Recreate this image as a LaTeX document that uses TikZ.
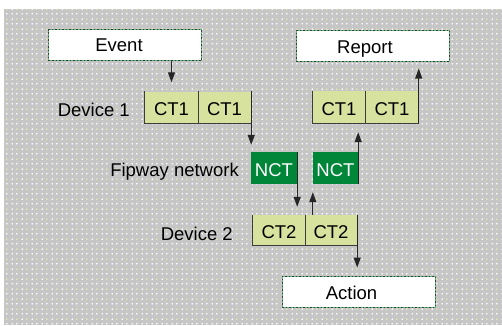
\documentclass[tikz,border=0pt]{standalone}
\usepackage{fontspec}
\setmainfont{Liberation Sans}
\usetikzlibrary{arrows.meta, patterns.meta}

\definecolor{bggray}{RGB}{198,198,198}
\definecolor{dotyellow}{RGB}{236,236,170}
\definecolor{ctfill}{RGB}{214,226,158}
\definecolor{nctgreen}{RGB}{0,134,56}
\definecolor{edgegray}{RGB}{60,60,60}
\definecolor{boxedge}{RGB}{90,180,120}

\tikzdeclarepattern{
	name=bgdots,
	type=colored,
	bottom left={(0pt,0pt)},
	top right={(10pt,10pt)},
	tile size={(10pt,10pt)},
	code={
		\fill[white] (2.5pt,2.5pt) circle (1pt);
		\fill[white] (7.5pt,2.5pt) circle (1pt);
		\fill[white] (2.5pt,7.5pt) circle (1pt);
		\fill[dotyellow] (7.5pt,7.5pt) circle (1pt);
	}
}

\tikzset{
	txt/.style={font=\fontsize{18.5}{21}\selectfont, inner sep=0pt, text height=16pt, text depth=0pt},
	eventbox/.style={txt, fill=white, draw=boxedge, line width=1pt, minimum width=153pt, minimum height=31pt,
		postaction={draw=edgegray, line width=0.6pt, dash pattern=on 1.5pt off 2pt}},
	ctbox/.style={txt, fill=ctfill, minimum height=32pt},
	nctbox/.style={txt, fill=nctgreen, text=white, minimum width=46pt, minimum height=32pt},
	edge/.style={draw=edgegray, line width=1.1pt},
	arr/.style={draw=black!85, line width=1.1pt, -{Triangle[length=10pt,width=7pt]}}
}

\begin{document}
\begin{tikzpicture}[x=1pt, y=-1pt]
	\useasboundingbox (0,0) rectangle (502,325);
	% background
	\fill[bggray] (4,9) rectangle (502,325);
	\fill[pattern=bgdots] (4,9) rectangle (502,325);

	\node[eventbox, text height=12pt] (event) at (125,45) {\hspace*{-12pt}Event};
	\node[eventbox] (report) at (373,45.5)    {\hspace*{-16pt}Report};
	\node[eventbox] (action) at (358.5,291.5) {\hspace*{-14pt}Action};

	\node[txt, anchor=east] (dev1) at (130,108.5) {Device 1};
	\node[txt, anchor=east] (fip)  at (239,168.5) {Fipway network};
	\node[txt, anchor=east] (dev2) at (233,232)   {Device 2};

	\node[ctbox, minimum width=53pt] (ct1a) at (171.5,107.5) {CT1};
	\node[ctbox, minimum width=53pt] (ct1b) at (224.5,107.5) {CT1};
	\node[ctbox, minimum width=53pt] (ct1c) at (339,107)     {CT1};
	\node[ctbox, minimum width=53pt] (ct1d) at (392,107)     {CT1};
	\node[ctbox, minimum width=52pt, minimum height=30pt] (ct2a) at (279,230) {CT2};
	\node[ctbox, minimum width=52pt, minimum height=30pt] (ct2b) at (331,230) {CT2};

	\node[nctbox] (nct1) at (274,168)   {NCT};
	\node[nctbox, minimum width=45pt] (nct2) at (335.5,168) {NCT};

	% box edges
	\draw[edge] (ct1a.north west) -- (ct1a.south west) -- (ct1b.south east);
	\draw[edge] (ct1a.north east) -- (ct1a.south east);
	\draw[edge] (ct1c.north west) -- (ct1c.south west) -- (ct1d.south east);
	\draw[edge] (ct1c.north east) -- (ct1c.south east);
	\draw[edge] (ct2a.north west) -- (ct2a.south west) -- (ct2b.south east);
	\draw[edge] (ct2a.north east) -- (ct2a.south east);

	% arrows
	\draw[arr, shorten >=9pt] (event.south -| ct1a.north) -- (ct1a.north);
	\draw[arr, shorten >=7pt] (ct1b.north east) -- (nct1.north -| ct1b.east);
	\draw[arr, shorten >=8pt] (nct1.north east) -- (nct1.east |- ct2a.north);
	\draw[arr, shorten >=8pt] (nct2.west |- ct2b.north) -- (nct2.south west);
	\draw[arr, shorten >=9pt] (nct2.south east) -- (nct2.east |- ct1c.south);
	\draw[arr, shorten >=7pt] (ct1d.south east) -- (report.south -| ct1d.east);
	\draw[arr, shorten >=8pt] (ct2b.north east) -- (action.north -| ct2b.east);
\end{tikzpicture}
\end{document}
